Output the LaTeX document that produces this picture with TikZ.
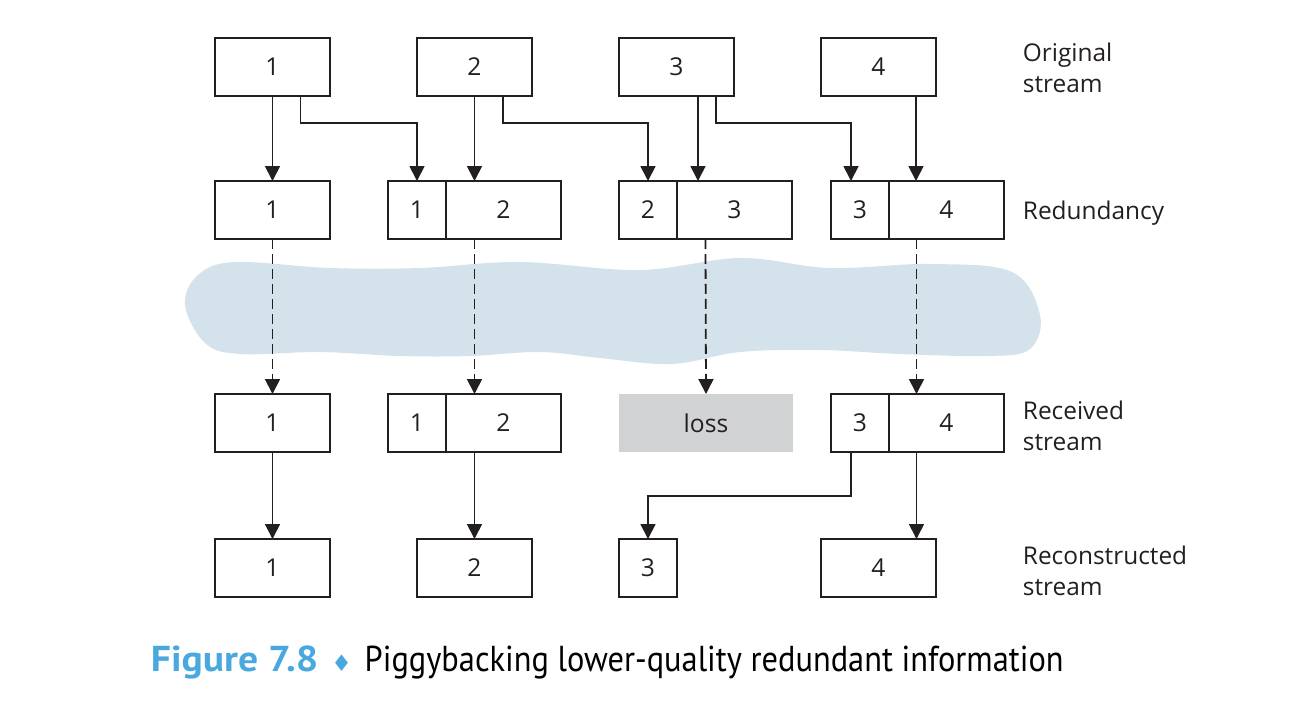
\documentclass[tikz,border=0pt]{standalone}
\usepackage{fontspec}
\usepackage{tikz}
\usetikzlibrary{arrows.meta,positioning}
\setmainfont{Open Sans}
\newfontfamily\capfont[FakeStretch=0.9]{PT Sans}
\newfontfamily\figfont[FakeStretch=1.1]{PT Sans}
\newfontfamily\symfont{DejaVu Sans}
\definecolor{inkgray}{HTML}{231F20}
\definecolor{cloudblue}{HTML}{D4E2EB}
\definecolor{lossgray}{HTML}{D1D2D4}
\definecolor{figblue}{HTML}{4AA8E0}

\begin{document}
\begin{tikzpicture}[x=0.02cm,y=-0.02cm,->,>={Triangle[width=0.3cm,length=0.3cm]},line width=0.036cm,draw=inkgray]
        \tikzstyle{pktnode}=[
            rectangle,
            draw=inkgray,
            line width=0.036cm,
            minimum width=2.3cm,
            minimum height=1.16cm,
            inner sep=0pt,
            outer sep=0pt,
            text=inkgray,
            font=\fontsize{14}{16}\selectfont
        ]
        \tikzstyle{halfnode}=[pktnode, minimum width=1.16cm]
        \tikzstyle{lossnode}=[pktnode, draw=none, fill=lossgray, minimum width=3.48cm]
        \tikzstyle{rowlabel}=[anchor=west, align=left, inner sep=0pt, text=inkgray,
            font=\fontsize{13.9}{17.6}\selectfont]
        \tikzstyle{lostlink}=[dash pattern=on 0.2cm off 0.1cm]

        \useasboundingbox (0,0) rectangle (1302,708);

        % network cloud
        \fill[cloudblue] plot[smooth cycle, tension=0.6] coordinates {
            (185,305) (198,275) (235,262) (330,268) (420,268) (520,262) (640,270)
            (740,258) (830,268) (930,264) (1012,272) (1040,315) (1030,349)
            (990,356) (900,354) (820,350) (740,352) (672,364) (600,358)
            (540,352) (470,356) (400,356) (320,352) (240,354) (205,343)};

        % original stream
        \node[pktnode] (o1) at (272.5,67){1};
        \node[pktnode] (o2) at (474.5,67){2};
        \node[pktnode] (o3) at (676.5,67){3};
        \node[pktnode] (o4) at (878.5,67){4};

        % redundancy
        \node[pktnode] (d1) at (272.5,210){1};
        \node[halfnode] (d2a) at (417,210){1};
        \node[pktnode, right=0pt of d2a] (d2b){2};
        \node[halfnode] (d3a) at (648,210){2};
        \node[pktnode, right=0pt of d3a] (d3b){3};
        \node[halfnode] (d4a) at (860,210){3};
        \node[pktnode, right=0pt of d4a] (d4b){4};

        % received stream
        \node[pktnode] (c1) at (272.5,423){1};
        \node[halfnode] (c2a) at (417,423){1};
        \node[pktnode, right=0pt of c2a] (c2b){2};
        \node[lossnode] (loss) at (706,423){loss};
        \node[halfnode] (c4a) at (860,423){3};
        \node[pktnode, right=0pt of c4a] (c4b){4};

        % reconstructed stream
        \node[pktnode] (e1) at (272.5,568){1};
        \node[pktnode] (e2) at (474.5,568){2};
        \node[halfnode] (e3) at (648,568){3};
        \node[pktnode] (e4) at (878.5,568){4};

        \node[rowlabel] (lo) at (1022,68){Original\\stream};
        \node[rowlabel] (ld) at (1022,213){Redundancy};
        \node[rowlabel] (lc) at (1022,426){Received\\stream};
        \node[rowlabel] (le) at (1022,571){Reconstructed\\stream};

        \draw (o1.south) -- (d1.north);
        \draw ([xshift=0.56cm]o1.south) -- ++(0,27) -| (d2a.north);
        \draw (o2.south) -- ++(0,85);
        \draw ([xshift=0.57cm]o2.south) -- ++(0,27) -| (d3a.north);
        \draw ([xshift=0.43cm]o3.south) -- ++(0,85);
        \draw ([xshift=0.79cm]o3.south) -- ++(0,27) -| ([xshift=-0.18cm]d4a.north);
        \draw ([xshift=0.75cm]o4.south) -- ++(0,85);

        \draw[lostlink] (d1.south) -- (c1.north);
        \draw[lostlink] ([xshift=-0.58cm]d2b.south) -- ++(0,155);
        \draw[lostlink] ([xshift=-0.58cm]d3b.south) -- (loss.north);
        \draw[lostlink] ([xshift=-0.6cm]d4b.south) -- ++(0,155);

        \draw (c1.south) -- (e1.north);
        \draw ([xshift=-0.58cm]c2b.south) -- ++(0,87);
        \draw ([xshift=-0.18cm]c4a.south) -- ++(0,44) -| (e3.north);
        \draw ([xshift=-0.6cm]c4b.south) -- ++(0,87);

        \node[anchor=west, inner sep=0pt, font=\capfont\fontsize{20.5}{23}\selectfont] (cap) at (150,662)
            {\textcolor{figblue}{\figfont\bfseries Figure 7.8}\hspace{0.26cm}\textcolor{figblue}{\symfont\fontsize{13}{16}\selectfont ♦}\hspace{0.26cm}Piggybacking lower-quality redundant information};
\end{tikzpicture}
\end{document}
